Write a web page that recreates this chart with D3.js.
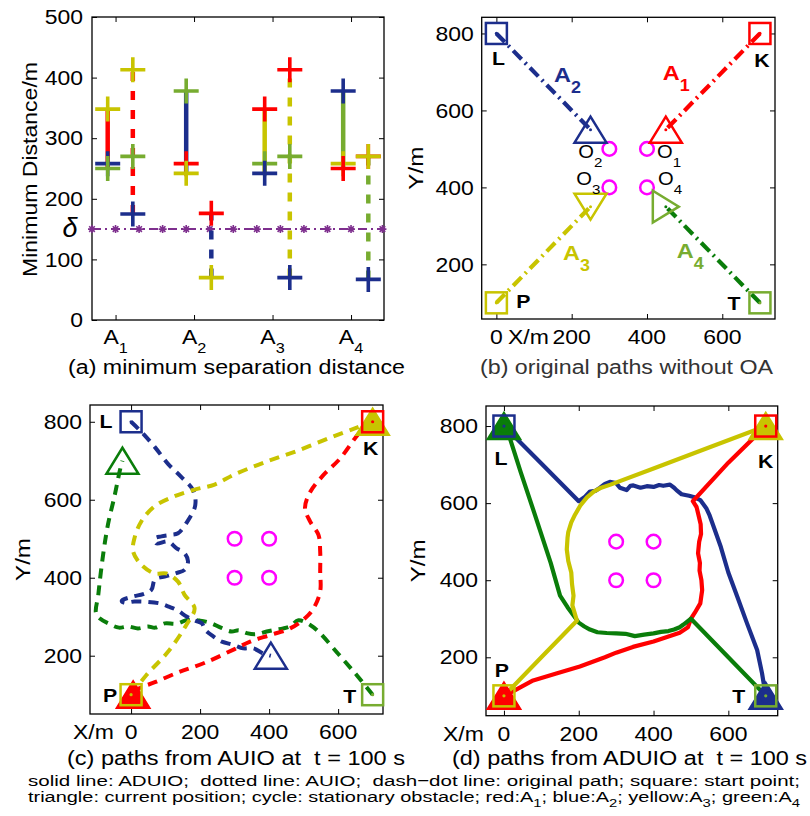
<!DOCTYPE html>
<html>
<head>
<meta charset="utf-8">
<script src="https://cdn.jsdelivr.net/npm/d3@7"></script>
<style>
	body { margin: 0; background: #fff; }
	text { font-family: "Liberation Sans", Arial, Helvetica, sans-serif; white-space: pre; }
</style>
</head>
<body>
<div id="chart"></div>
<script>
// ---------- data ----------
const agentSubs  = ['1', '2', '3', '4'];
const agentColor = ['#ff0000', '#1c2e8c', '#c8c400', '#77ac30'];
const pathColor  = ['#ff0000', '#1c2e8c', '#c8c400', '#0a7d0a'];

// (a) minimum separation distance, [other agent, value]
const solidMarks = [
	[[2, 348], [1, 258], [3, 250]],
	[[3, 378], [0, 258], [2, 242]],
	[[0, 348], [3, 258], [1, 242]],
	[[1, 378], [2, 258], [0, 250]]
];
const dashedMarks = [
	[[2, 413], [3, 270], [1, 175]],
	[[0, 176], [2, 70]],
	[[0, 413], [3, 270], [1, 70]],
	[[0, 270], [2, 270], [1, 67]]
];
const delta = 150;
const deltaX = [0.7, 1, 1.3, 1.6, 1.9, 2.2, 2.5, 2.8, 3.1, 3.4, 3.7, 4.0, 4.4];
const distTicks = [0, 100, 200, 300, 400, 500];

// scene
const startPts   = [[700, 800], [0, 800], [0, 100], [700, 100]];
const startNames = ['K', 'L', 'P', 'T'];
const obstacles  = [[400, 500], [300, 500], [300, 400], [400, 400]];
const origEnd    = [[450, 550], [250, 550], [250, 350], [450, 350]];
const xTicks = [0, 200, 400, 600];
const yTicks = [200, 400, 600, 800];

// (c) AUIO paths
const auioPaths = [
	[[700, 800], [664, 774], [606, 706], [557, 663], [519, 620], [504, 578], [519, 544], [543, 510], [548, 467],
	 [548, 416], [548, 365], [529, 322], [504, 296], [461, 270], [403, 253], [345, 236], [300, 217], [214, 182],
	 [136, 157], [69, 132], [30, 119], [8, 108], [10, 95], [-4, 88], [-10, 100], [0, 110], [6, 100]],
	[[0, 800], [30, 774], [69, 735], [107, 692], [146, 658], [180, 624], [186, 586], [163, 544], [136, 514],
	 [117, 510], [88, 506], [69, 501], [73, 488], [107, 493], [131, 476], [155, 463], [165, 442], [155, 420],
	 [131, 412], [102, 404], [69, 395], [59, 369], [35, 358], [6, 352], [-27, 341], [-20, 336], [10, 339],
	 [50, 338], [84, 334], [109, 326], [133, 317], [162, 300], [186, 290], [205, 283], [215, 266], [239, 249],
	 [263, 236], [296, 228], [325, 219], [354, 219], [383, 206], [405, 200]],
	[[0, 100], [44, 150], [107, 210], [160, 279], [184, 322], [155, 356], [136, 390], [102, 411], [68, 411],
	 [30, 433], [6, 467], [10, 502], [30, 545], [68, 583], [126, 609], [184, 626], [242, 639], [300, 665],
	 [384, 695], [480, 725], [577, 759], [654, 785], [700, 800]],
	[[700, 100], [654, 150], [600, 205], [545, 260], [519, 279], [485, 291], [462, 276], [441, 270], [415, 266],
	 [393, 262], [360, 255], [335, 258], [312, 265], [291, 262], [260, 272], [233, 283], [200, 290], [165, 292],
	 [130, 282], [98, 283], [70, 272], [49, 275], [20, 270], [-9, 275], [-35, 272], [-57, 279], [-100, 305],
	 [-95, 356], [-81, 459], [-67, 536], [-47, 613], [-33, 673], [-25, 700]]
];
const auioReached = [true, false, true, false];

// (d) ADUIO paths
const aduioPaths = [
	[[700, 800], [600, 705], [505, 605], [515, 590], [520, 570], [526, 545], [527, 520], [522, 500], [519, 470],
	 [524, 445], [523, 425], [528, 400], [530, 374], [525, 340], [510, 315], [500, 300], [492, 278], [470, 264],
	 [400, 241], [345, 227], [300, 212], [270, 200], [203, 176], [140, 158], [78, 140], [30, 115], [0, 100]],
	[[0, 800], [100, 703], [200, 605], [215, 615], [230, 630], [245, 632], [257, 640], [270, 650], [283, 655],
	 [300, 652], [310, 640], [328, 634], [338, 645], [346, 646], [365, 640], [382, 644], [400, 642], [415, 647],
	 [426, 645], [444, 648], [455, 640], [462, 633], [475, 623], [495, 619], [507, 616], [525, 608], [541, 587],
	 [550, 568], [561, 538], [580, 486], [600, 420], [624, 357], [650, 288], [677, 219], [690, 159], [700, 100]],
	[[0, 100], [100, 200], [195, 295], [183, 335], [186, 360], [182, 390], [180, 420], [172, 450], [168, 480],
	 [170, 510], [172, 525], [180, 550], [190, 570], [205, 595], [222, 615], [240, 630], [260, 640], [285, 648],
	 [400, 690], [550, 745], [700, 800]],
	[[700, 100], [600, 200], [500, 300], [480, 285], [470, 278], [455, 272], [440, 268], [420, 266], [400, 262],
	 [375, 259], [350, 255], [325, 261], [300, 262], [275, 263], [250, 265], [230, 272], [215, 280], [200, 290],
	 [170, 330], [150, 360], [125, 445], [80, 578], [45, 680], [13, 777], [0, 800]]
];

// ---------- drawing ----------
const svg = d3.select('#chart')
	.append('svg')
		.attr('width', 810)
		.attr('height', 816);

svg.append('rect').attr('width', 810).attr('height', 816).attr('fill', '#fff');

const SX = 1.12;

function label(g, x, y, parts, o = {}) {
	let t = g.append('text')
		.attr('transform', 'translate(' + x + ',' + y + ') scale(' + (o.sx || SX) + ',1)')
		.attr('text-anchor', o.anchor || 'middle')
		.attr('font-size', o.size || 20.5)
		.attr('font-weight', o.bold ? 'bold' : null)
		.attr('fill', o.fill || '#000');
	let main = Array.isArray(parts) ? parts[0] : parts;
	let sub = Array.isArray(parts) ? parts[1] : null;
	t.append('tspan').attr('dy', o.middle ? '0.35em' : 0).text(main);
	if (sub) t.append('tspan').attr('dy', o.subDy || 10).attr('font-size', o.subSize || 15).text(sub);
	return t;
}

function frame(xs, ys, xv, yv) {
	let [l, r] = xs.range(), [b, t] = ys.range();
	let g = svg.append('g');
	let none = () => '';
	g.append('g').attr('transform', 'translate(0,' + b + ')')
		.call(d3.axisBottom(xs).tickValues(xv).tickSizeInner(-5).tickSizeOuter(0).tickFormat(none));
	g.append('g').attr('transform', 'translate(0,' + t + ')')
		.call(d3.axisTop(xs).tickValues(xv).tickSizeInner(-5).tickSizeOuter(0).tickFormat(none));
	g.append('g').attr('transform', 'translate(' + l + ',0)')
		.call(d3.axisLeft(ys).tickValues(yv).tickSizeInner(-5).tickSizeOuter(0).tickFormat(none));
	g.append('g').attr('transform', 'translate(' + r + ',0)')
		.call(d3.axisRight(ys).tickValues(yv).tickSizeInner(-5).tickSizeOuter(0).tickFormat(none));
	g.selectAll('.domain').remove();
	g.selectAll('.tick line').attr('stroke', '#000').attr('stroke-width', 1);
	g.append('rect')
		.attr('x', l).attr('y', t)
		.attr('width', r - l).attr('height', b - t)
		.attr('fill', 'none').attr('stroke', '#000').attr('stroke-width', 1.3);
	return g;
}

function triPath(dir, w, h) {
	if (dir === 'down') return 'M' + (-w / 2) + ',' + (-h / 2) + 'L' + (w / 2) + ',' + (-h / 2) + 'L0,' + (h / 2) + 'Z';
	if (dir === 'right') return 'M' + (-h / 2) + ',' + (-w / 2) + 'L' + (-h / 2) + ',' + (w / 2) + 'L' + (h / 2) + ',0Z';
	return 'M' + (-w / 2) + ',' + (h / 2) + 'L' + (w / 2) + ',' + (h / 2) + 'L0,' + (-h / 2) + 'Z';
}

function triangle(g, x, y, dir, color, filled) {
	g.append('path')
		.attr('d', triPath(dir, 32, 26))
		.attr('transform', 'translate(' + x + ',' + y + ')')
		.attr('fill', filled ? color : 'none')
		.attr('stroke', color)
		.attr('stroke-width', 2.5)
		.attr('stroke-linejoin', 'miter');
}

function square(g, x, y, color) {
	g.append('rect')
		.attr('x', x - 10.5).attr('y', y - 10.5)
		.attr('width', 21).attr('height', 21)
		.attr('fill', 'none').attr('stroke', color).attr('stroke-width', 2.5);
	g.append('circle').attr('cx', x).attr('cy', y).attr('r', 1.6).attr('fill', color);
}

function obstacleMarks(g, xs, ys) {
	obstacles.forEach((o) => {
		g.append('circle')
			.attr('cx', xs(o[0])).attr('cy', ys(o[1])).attr('r', 6.8)
			.attr('fill', 'none').attr('stroke', '#ff00ff').attr('stroke-width', 2.5);
	});
}

function xyLabels(xs, ys, xLabelX, yLabelX, nameOff) {
	let [l, r] = xs.range(), [b, t] = ys.range();
	xTicks.forEach((v) => label(svg, xs(v), b + 25, String(v)));
	yTicks.forEach((v) => label(svg, l - 8, ys(v), String(v), { anchor: 'end', middle: true }));
	label(svg, xLabelX, b + 25, 'X/m', { anchor: 'start' });
	svg.append('text')
		.attr('transform', 'translate(' + yLabelX + ',' + ((t + b) / 2) + ') rotate(-90)')
		.attr('text-anchor', 'middle')
		.attr('font-size', 20.5)
		.attr('textLength', 43).attr('lengthAdjust', 'spacingAndGlyphs')
		.text('Y/m');
	startPts.forEach((p, i) => {
		label(svg, xs(p[0]) + nameOff[i][0], ys(p[1]) + nameOff[i][1], startNames[i], { bold: true, size: 19 });
	});
}

// ---------- (a) ----------
(function () {
	let x = d3.scaleLinear().domain([0.7, 4.42]).range([92, 384]);
	let y = d3.scaleLinear().domain([0, 500]).range([320, 17]);
	frame(x, y, [1, 2, 3, 4], distTicks);
	let g = svg.append('g');

	g.append('line')
		.attr('x1', x(0.7)).attr('x2', x(4.42))
		.attr('y1', y(delta)).attr('y2', y(delta))
		.attr('stroke', '#7e2f8e').attr('stroke-width', 2)
		.attr('stroke-dasharray', '9,4,2,4');
	deltaX.forEach((v) => {
		let cx = x(v), cy = y(delta), s = 4;
		g.append('path')
			.attr('d', 'M' + (cx - s) + ',' + cy + 'h' + (2 * s) + 'M' + cx + ',' + (cy - s) + 'v' + (2 * s) +
				'M' + (cx - s * 0.7) + ',' + (cy - s * 0.7) + 'l' + (1.4 * s) + ',' + (1.4 * s) +
				'M' + (cx - s * 0.7) + ',' + (cy + s * 0.7) + 'l' + (1.4 * s) + ',' + (-1.4 * s))
			.attr('stroke', '#7e2f8e').attr('stroke-width', 1.6);
	});

	[solidMarks, dashedMarks].forEach((set, k) => {
		set.forEach((marks, i) => {
			let xp = x(i + 1 + (k ? 0.22 : -0.1));
			let vals = marks.map((m) => m[1]);
			g.append('line')
				.attr('x1', xp).attr('x2', xp)
				.attr('y1', y(d3.min(vals))).attr('y2', y(d3.max(vals)))
				.attr('stroke', agentColor[i]).attr('stroke-width', 4.5)
				.attr('stroke-dasharray', k ? '9,10' : null);
			marks.forEach((m) => {
				let cy = y(m[1]);
				g.append('path')
					.attr('d', 'M' + (xp - 12.5) + ',' + cy + 'h25M' + xp + ',' + (cy - 12.5) + 'v25')
					.attr('stroke', agentColor[m[0]]).attr('stroke-width', 3.6);
			});
		});
	});

	distTicks.forEach((v) => label(svg, 83, y(v), String(v), { anchor: 'end', middle: true }));
	[1, 2, 3, 4].forEach((v, i) => label(svg, x(v), 344, ['A', agentSubs[i]], { subDy: 9, subSize: 14.5 }));
	svg.append('text')
		.attr('x', 70).attr('y', y(delta) + 8)
		.attr('text-anchor', 'middle')
		.attr('font-family', '"DejaVu Serif", "Liberation Serif", serif')
		.attr('font-style', 'italic')
		.attr('font-size', 27)
		.text('δ');
	svg.append('text')
		.attr('transform', 'translate(37,' + ((y(0) + y(500)) / 2 + 1) + ') rotate(-90)')
		.attr('text-anchor', 'middle')
		.attr('font-size', 20.5)
		.attr('textLength', 215).attr('lengthAdjust', 'spacingAndGlyphs')
		.text('Minimum Distance/m');
	svg.append('text')
		.attr('x', 236.5).attr('y', 374).attr('text-anchor', 'middle')
		.attr('font-size', 20)
		.attr('textLength', 337).attr('lengthAdjust', 'spacingAndGlyphs')
		.text('(a) minimum separation distance');
})();

// ---------- (b) ----------
(function () {
	let x = d3.scaleLinear().domain([-39, 740]).range([481.7, 775]);
	let y = d3.scaleLinear().domain([58, 842]).range([319, 17.3]);
	frame(x, y, xTicks, yTicks);
	let g = svg.append('g');
	let dirs = ['up', 'up', 'down', 'right'];

	startPts.forEach((p, i) => {
		g.append('path')
			.attr('d', d3.line().x((d) => x(d[0])).y((d) => y(d[1]))([p, origEnd[i]]))
			.attr('stroke', pathColor[i]).attr('stroke-width', 4.2).attr('fill', 'none')
			.attr('stroke-dasharray', '12,5,2,5');
	});
	obstacleMarks(g, x, y);
	origEnd.forEach((p, i) => {
		triangle(g, x(p[0]), y(p[1]), dirs[i], agentColor[i], false);
		g.append('circle').attr('cx', x(p[0])).attr('cy', y(p[1])).attr('r', 1.5).attr('fill', pathColor[i]);
	});
	startPts.forEach((p, i) => square(g, x(p[0]), y(p[1]), agentColor[i]));

	let aPos = [[442, 679], [153, 673], [177, 211], [479, 216]];
	aPos.forEach((p, i) => {
		label(svg, x(p[0]), y(p[1]), ['A', agentSubs[i]], {
			anchor: 'start', bold: true, size: 21, subSize: 16, subDy: 11, fill: agentColor[i]
		});
	});
	let oOff = [[10, 9, 'start'], [-7, 9, 'end'], [-9, -2, 'end'], [11, -2, 'start']];
	obstacles.forEach((o, i) => {
		label(svg, x(o[0]) + oOff[i][0], y(o[1]) + oOff[i][1], ['O', String(i + 1)], {
			anchor: oOff[i][2], size: 18, subSize: 13.5, subDy: 9
		});
	});

	xyLabels(x, y, 508, 423, [[2, 34], [2, 32], [27, 5], [-26, 7]]);
	svg.append('text')
		.attr('x', 626.5).attr('y', 374).attr('text-anchor', 'middle')
		.attr('font-size', 20).attr('fill', '#333')
		.attr('textLength', 293).attr('lengthAdjust', 'spacingAndGlyphs')
		.text('(b) original paths without OA');
})();

// ---------- (c) ----------
(function () {
	let x = d3.scaleLinear().domain([-119, 730]).range([90, 383]);
	let y = d3.scaleLinear().domain([50.5, 843]).range([714, 405]);
	frame(x, y, xTicks, yTicks);
	let g = svg.append('g');
	let line = d3.line().x((d) => x(d[0])).y((d) => y(d[1])).curve(d3.curveCatmullRom);

	[3, 1, 2, 0].forEach((i) => {
		g.append('path')
			.attr('d', line(auioPaths[i]))
			.attr('stroke', pathColor[i]).attr('stroke-width', 4).attr('fill', 'none')
			.attr('stroke-dasharray', '10,7');
	});
	obstacleMarks(g, x, y);
	auioPaths.forEach((pts, i) => {
		let p = pts[pts.length - 1];
		triangle(g, x(p[0]), y(p[1]), 'up', pathColor[i], auioReached[i]);
	});
	startPts.forEach((p, i) => square(g, x(p[0]), y(p[1]), agentColor[i]));

	xyLabels(x, y, 73, 30, [[-2, 33], [-25, 6], [-21, 7], [-23, 8]]);
	svg.append('text')
		.attr('x', 236).attr('y', 765).attr('text-anchor', 'middle')
		.attr('font-size', 20)
		.attr('textLength', 338).attr('lengthAdjust', 'spacingAndGlyphs')
		.text('(c) paths from AUIO at  t = 100 s');
})();

// ---------- (d) ----------
(function () {
	let x = d3.scaleLinear().domain([-48, 732]).range([486, 777.7]);
	let y = d3.scaleLinear().domain([48.5, 852]).range([715.7, 406]);
	frame(x, y, xTicks, yTicks);
	let g = svg.append('g');
	let line = d3.line().x((d) => x(d[0])).y((d) => y(d[1]));

	[1, 0, 3, 2].forEach((i) => {
		g.append('path')
			.attr('d', line(aduioPaths[i]))
			.attr('stroke', pathColor[i]).attr('stroke-width', 4.2).attr('fill', 'none')
			.attr('stroke-linejoin', 'round').attr('stroke-linecap', 'round');
	});
	obstacleMarks(g, x, y);
	aduioPaths.forEach((pts, i) => {
		let p = pts[pts.length - 1];
		triangle(g, x(p[0]), y(p[1]), 'up', pathColor[i], true);
	});
	startPts.forEach((p, i) => square(g, x(p[0]), y(p[1]), agentColor[i]));
	aduioPaths.forEach((pts, i) => {
		let p = pts[pts.length - 1];
		g.append('circle').attr('cx', x(p[0])).attr('cy', y(p[1])).attr('r', 6.5)
			.attr('fill', pathColor[i]).attr('stroke', pathColor[i]).attr('stroke-width', 1);
	});
	startPts.forEach((p, i) => {
		g.append('circle').attr('cx', x(p[0])).attr('cy', y(p[1])).attr('r', 1.6).attr('fill', agentColor[i]);
	});

	xyLabels(x, y, 443, 425, [[0, 42], [-3, 39], [-2, -19], [-27, 7]]);
	svg.append('text')
		.attr('x', 629.5).attr('y', 765).attr('text-anchor', 'middle')
		.attr('font-size', 20)
		.attr('textLength', 355).attr('lengthAdjust', 'spacingAndGlyphs')
		.text('(d) paths from ADUIO at  t = 100 s');
})();

// ---------- notes ----------
svg.append('text')
	.attr('x', 28).attr('y', 786)
	.attr('font-size', 15.5)
	.attr('textLength', 772).attr('lengthAdjust', 'spacingAndGlyphs')
	.text('solid line: ADUIO;  dotted line: AUIO;  dash\u2212dot line: original path; square: start point;');

let note2 = svg.append('text')
	.attr('x', 28).attr('y', 802)
	.attr('font-size', 15.5)
	.attr('textLength', 772).attr('lengthAdjust', 'spacingAndGlyphs');
[['triangle: current position; cycle: stationary obstacle; red:A', '1'],
 ['; blue:A', '2'], ['; yellow:A', '3'], ['; green:A', '4']].forEach((s, i) => {
	note2.append('tspan').attr('dy', i ? -5 : 0).text(s[0]);
	note2.append('tspan').attr('dy', 5).attr('font-size', 11.5).text(s[1]);
});
</script>
</body>
</html>
